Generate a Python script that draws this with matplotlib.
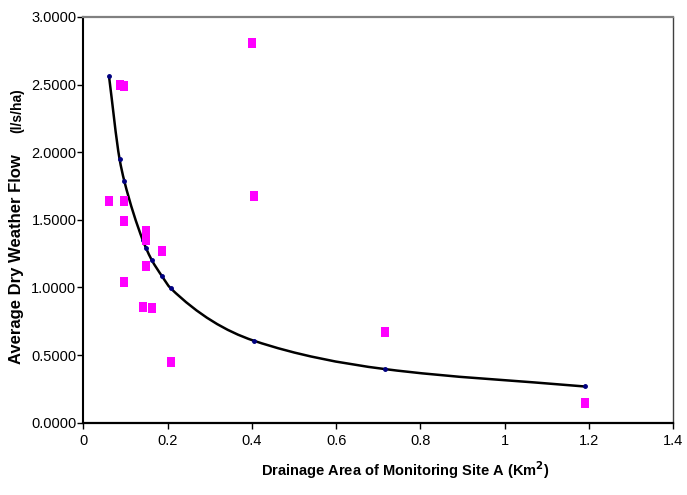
import matplotlib
matplotlib.use("Agg")
import matplotlib.pyplot as plt
from matplotlib.path import Path
from matplotlib.patches import PathPatch
import numpy as np

plt.rcParams['font.family'] = ['Liberation Sans', 'DejaVu Sans']

# Observed values (pink squares)
area_km2 = [0.086, 0.097, 0.061, 0.097, 0.096, 0.149, 0.149, 0.187, 0.149,
            0.097, 0.141, 0.162, 0.207, 0.400, 0.405, 0.715, 1.190]
dwf = [2.495, 2.488, 1.638, 1.638, 1.490, 1.420, 1.349, 1.270, 1.159,
       1.041, 0.858, 0.851, 0.451, 2.808, 1.677, 0.671, 0.146]

# Fitted values (navy dots joined by a smoothed line)
fit_x = [0.061, 0.086, 0.097, 0.141, 0.149, 0.162, 0.187, 0.207, 0.404, 0.715, 1.190]
fit_y = [2.560, 1.950, 1.790, 1.350, 1.290, 1.205, 1.082, 0.995, 0.607, 0.397, 0.268]

x_ticks = [0, 0.2, 0.4, 0.6, 0.8, 1.0, 1.2, 1.4]
x_tick_labels = ['0', '0.2', '0.4', '0.6', '0.8', '1', '1.2', '1.4']
y_ticks = [0, 0.5, 1.0, 1.5, 2.0, 2.5, 3.0]


def smooth_path(xs, ys):
    # monotone cubic (Fritsch-Carlson) drawn as Bezier pieces
    x = np.asarray(xs, float)
    y = np.asarray(ys, float)
    h = np.diff(x)
    d = np.diff(y) / h
    m = np.zeros_like(y)
    m[0], m[-1] = d[0], d[-1]
    for i in range(1, len(x) - 1):
        if d[i - 1] * d[i] <= 0:
            m[i] = 0
        else:
            w1 = 2 * h[i] + h[i - 1]
            w2 = h[i] + 2 * h[i - 1]
            m[i] = (w1 + w2) / (w1 / d[i - 1] + w2 / d[i])
    verts = [(x[0], y[0])]
    codes = [Path.MOVETO]
    for i in range(len(x) - 1):
        verts += [(x[i] + h[i] / 3, y[i] + m[i] * h[i] / 3),
                  (x[i + 1] - h[i] / 3, y[i + 1] - m[i + 1] * h[i] / 3),
                  (x[i + 1], y[i + 1])]
        codes += [Path.CURVE4] * 3
    return Path(verts, codes)


fig = plt.figure(figsize=(6.87, 4.95), dpi=100)
ax = fig.add_axes([0.1213, 0.146, 0.8587, 0.8197])

ax.add_patch(PathPatch(smooth_path(fit_x, fit_y), facecolor='none',
                       edgecolor='black', linewidth=1.8, zorder=3))
ax.plot(fit_x, fit_y, linestyle='none', marker='o', markersize=2.5,
        color='#000080', zorder=4)

rect = [(-0.8, -1), (0.8, -1), (0.8, 1), (-0.8, 1), (-0.8, -1)]
ax.scatter(area_km2, dwf, marker=rect, s=55, color='#FF00FF',
           linewidths=0, zorder=5)

ax.set_xlim(0, 1.4)
ax.set_ylim(0, 3.0)
ax.set_xticks(x_ticks)
ax.set_xticklabels(x_tick_labels)
ax.set_yticks(y_ticks)
ax.set_yticklabels([f"{v:.4f}" for v in y_ticks])
ax.tick_params(axis='both', labelsize=10.5, length=4, width=1, direction='out')
ax.tick_params(axis='x', pad=4)
ax.tick_params(axis='y', pad=1)

ax.spines['left'].set_linewidth(1.5)
ax.spines['bottom'].set_linewidth(1.6)
ax.spines['top'].set_color('#808080')
ax.spines['top'].set_linewidth(1.6)
ax.spines['right'].set_color('#404040')
ax.spines['right'].set_linewidth(1.0)

fig.text(0.5897, 1 - 470 / 495, 'Drainage Area of Monitoring Site A (Km$^{\\mathbf{2}}$)',
         ha='center', va='center', fontsize=10.5, fontweight='bold')
fig.text(17 / 687, 1 - 259 / 495, 'Average Dry Weather Flow',
         ha='center', va='center', rotation=90, fontsize=12, fontweight='bold')
fig.text(17 / 687, 1 - 111 / 495, '(l/s/ha)',
         ha='center', va='center', rotation=90, fontsize=10, fontweight='bold')

fig.savefig('out.png', dpi=100)
